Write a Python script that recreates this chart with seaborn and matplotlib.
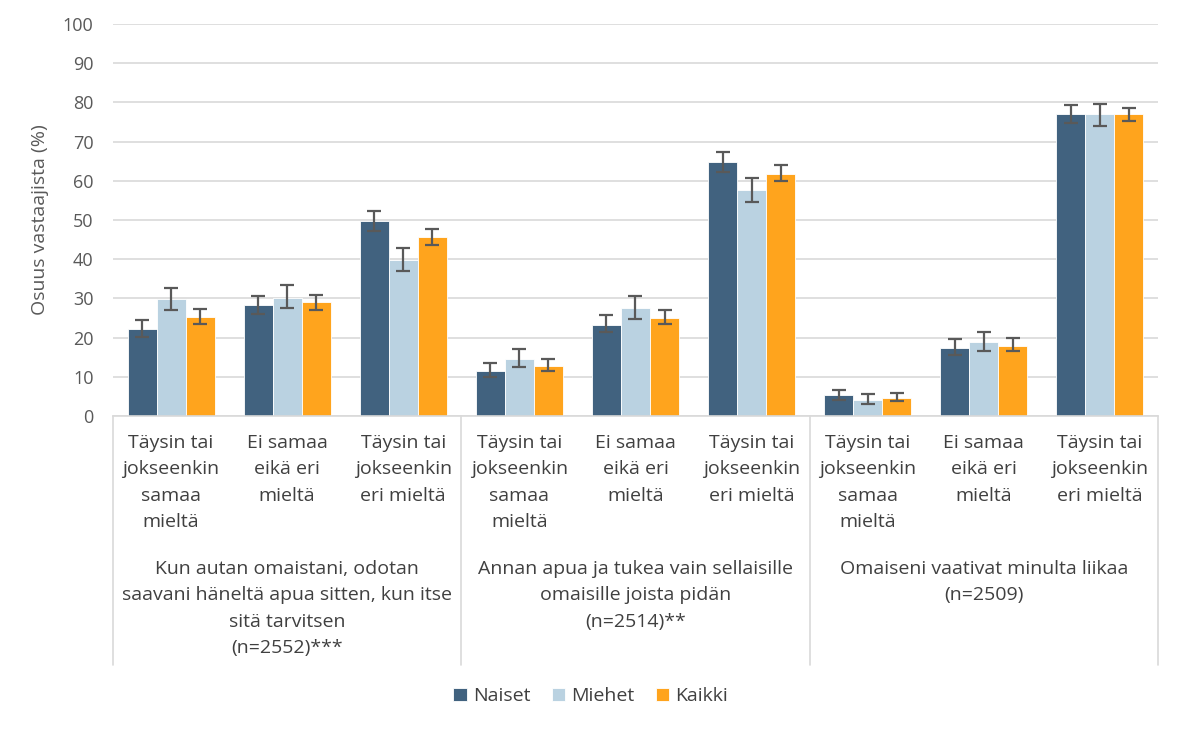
import numpy as np
import pandas as pd
import matplotlib
matplotlib.use('Agg')
import matplotlib.pyplot as plt
import matplotlib.transforms as mtransforms
import seaborn as sns

sns.set_theme(style='white')
plt.rcParams['font.family'] = ['Open Sans', 'DejaVu Sans']

# Data
groups = [
    'Kun autan omaistani, odotan\nsaavani häneltä apua sitten, kun itse\nsitä tarvitsen\n(n=2552)***',
    'Annan apua ja tukea vain sellaisille\nomaisille joista pidän\n(n=2514)**',
    'Omaiseni vaativat minulta liikaa\n(n=2509)',
]
answers = ['Täysin tai\njokseenkin\nsamaa\nmieltä', 'Ei samaa\neikä eri\nmieltä', 'Täysin tai\njokseenkin\neri mieltä']
series = ['Naiset', 'Miehet', 'Kaikki']

naiset = [22.2, 28.2, 49.8, 11.6, 23.3, 64.9, 5.3, 17.4, 77.1]
miehet = [29.8, 30.2, 39.8, 14.6, 27.6, 57.7, 4.1, 19.0, 77.0]
kaikki = [25.3, 29.0, 45.6, 12.8, 25.1, 61.8, 4.7, 17.9, 77.1]

naiset_lo = [20.2, 25.9, 47.3, 10.0, 21.3, 62.2, 4.1, 15.6, 74.8]
naiset_hi = [24.4, 30.5, 52.2, 13.5, 25.7, 67.3, 6.6, 19.6, 79.3]
miehet_lo = [27.1, 27.6, 37.0, 12.6, 24.7, 54.7, 3.1, 16.7, 74.1]
miehet_hi = [32.6, 33.4, 42.8, 17.0, 30.6, 60.6, 5.5, 21.4, 79.5]
kaikki_lo = [23.5, 27.1, 43.5, 11.6, 23.4, 60.0, 3.8, 16.7, 75.3]
kaikki_hi = [27.2, 30.8, 47.6, 14.5, 27.0, 64.0, 5.8, 19.8, 78.7]

colors = ['#41627f', '#bad2e1', '#ffa41d']
text_color = '#404040'

cats = [f'{g}_{a}' for g in range(len(groups)) for a in range(len(answers))]
df = pd.DataFrame({
    'cat': cats * 3,
    'series': np.repeat(series, len(cats)),
    'value': naiset + miehet + kaikki,
    'lo': naiset_lo + miehet_lo + kaikki_lo,
    'hi': naiset_hi + miehet_hi + kaikki_hi,
})

fig = plt.figure(figsize=(11.81, 7.29), dpi=100)
ax = fig.add_axes([0.0957, 0.4294, 0.8848, 0.5376])

sns.barplot(data=df, x='cat', y='value', hue='series', palette=colors, saturation=1,
            width=0.75, errorbar=None, ax=ax, edgecolor='white', linewidth=0.6)

# error bars from the bar patches
bars = [p for p in ax.patches if p.get_height() > 0]
for p, (_, row) in zip(bars, df.iterrows()):
    xc = p.get_x() + p.get_width() / 2
    ax.errorbar([xc], [row['value']],
                yerr=[[row['value'] - row['lo']], [row['hi'] - row['value']]],
                fmt='none', ecolor='#595959', elinewidth=1.6, capsize=5, capthick=1.6)

ax.set_ylim(0, 100)
ax.set_xlim(-0.5, len(cats) - 0.5)
ax.set_yticks(range(0, 101, 10))
ax.yaxis.grid(True, color='#d9d9d9', linewidth=1.2)
ax.set_axisbelow(True)
for s in ['top', 'right', 'left']:
    ax.spines[s].set_visible(False)
ax.spines['bottom'].set_color('#d9d9d9')
ax.spines['bottom'].set_linewidth(1.2)

ax.set_xticks(range(len(cats)))
ax.set_xticklabels(answers * len(groups), fontsize=14, color=text_color, linespacing=1.6, va='top')
ax.tick_params(axis='x', length=0, pad=13)
ax.tick_params(axis='y', length=0, labelsize=13, labelcolor='#595959', pad=14)
ax.set_xlabel('')
ax.set_ylabel('Osuus vastaajista (%)', fontsize=14, color='#595959', labelpad=10)

# group separators and group labels
trans = mtransforms.blended_transform_factory(ax.transData, fig.transFigure)
n = len(answers)
for i in range(len(groups) + 1):
    xs = i * n - 0.5
    ax.plot([xs, xs], [0.429, 0.088], transform=trans, color='#d9d9d9', linewidth=1.2, clip_on=False)
for i, g in enumerate(groups):
    ax.text(i * n + (n - 1) / 2, 0.232, g, transform=trans, ha='center', va='top',
            fontsize=14, color=text_color, linespacing=1.6)

ax.legend(loc='center', bbox_to_anchor=(0.5, 0.045), bbox_transform=fig.transFigure,
          ncol=3, frameon=False, fontsize=14, handlelength=0.7, handleheight=0.7,
          handletextpad=0.3, columnspacing=1.1, labelcolor=text_color)

fig.savefig('out.png', dpi=100)
